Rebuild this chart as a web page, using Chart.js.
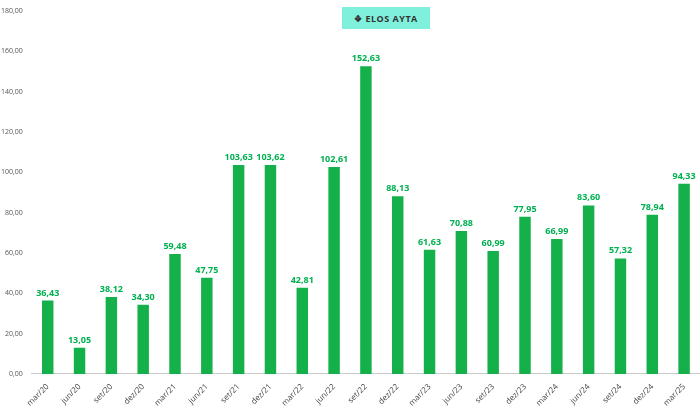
<!DOCTYPE html>
<html><head><meta charset="utf-8">
<script src="https://cdn.jsdelivr.net/npm/chart.js@4/dist/chart.umd.min.js"></script>
<style>
body{margin:0;background:#fff;}
#wrap{position:relative;width:700px;height:410px;}
#logo{position:absolute;left:342px;top:7px;width:88px;height:22px;background:#7ff0dc;font:bold 9px "Open Sans",sans-serif;color:#333;display:flex;align-items:center;justify-content:center;letter-spacing:0.5px}
</style></head><body>
<div id="wrap"><canvas id="c" width="700" height="410"></canvas>
<div id="logo">&#x2756;&nbsp;ELOS AYTA</div></div>
<script>
const categories=["mar/20","jun/20","set/20","dez/20","mar/21","jun/21","set/21","dez/21","mar/22","jun/22","set/22","dez/22","mar/23","jun/23","set/23","dez/23","mar/24","jun/24","set/24","dez/24","mar/25"];
const values=[36.43,13.05,38.12,34.30,59.48,47.75,103.63,103.62,42.81,102.61,152.63,88.13,61.63,70.88,60.99,77.95,66.99,83.60,57.32,78.94,94.33];
const fmt=v=>v.toFixed(2).replace('.',',');
const labelPlugin={id:'lbl',afterDatasetsDraw(ch){const ctx=ch.ctx;const m=ch.getDatasetMeta(0);ctx.save();ctx.font='bold 9px "Open Sans",sans-serif';ctx.fillStyle='#00b050';ctx.textAlign='center';ctx.textBaseline='bottom';m.data.forEach((b,i)=>ctx.fillText(fmt(values[i]),b.x,b.y-3));ctx.restore();}};
new Chart(document.getElementById('c'),{type:'bar',
data:{labels:categories,datasets:[{data:values,backgroundColor:'#14b04a',barPercentage:0.36,categoryPercentage:1}]},
options:{responsive:false,animation:false,layout:{padding:{top:11,right:0,left:0,bottom:2}},
plugins:{legend:{display:false},tooltip:{enabled:false}},
scales:{y:{min:0,max:180,ticks:{stepSize:20,padding:1,callback:v=>fmt(v),font:{size:7,family:'"Open Sans"'},color:'#555'},grid:{display:false},border:{display:false}},
x:{ticks:{maxRotation:45,minRotation:45,padding:0,font:{size:8,family:'"Open Sans"'},color:'#444'},grid:{display:false},border:{color:'#ccc'}}}},
plugins:[labelPlugin]});
</script></body></html>
